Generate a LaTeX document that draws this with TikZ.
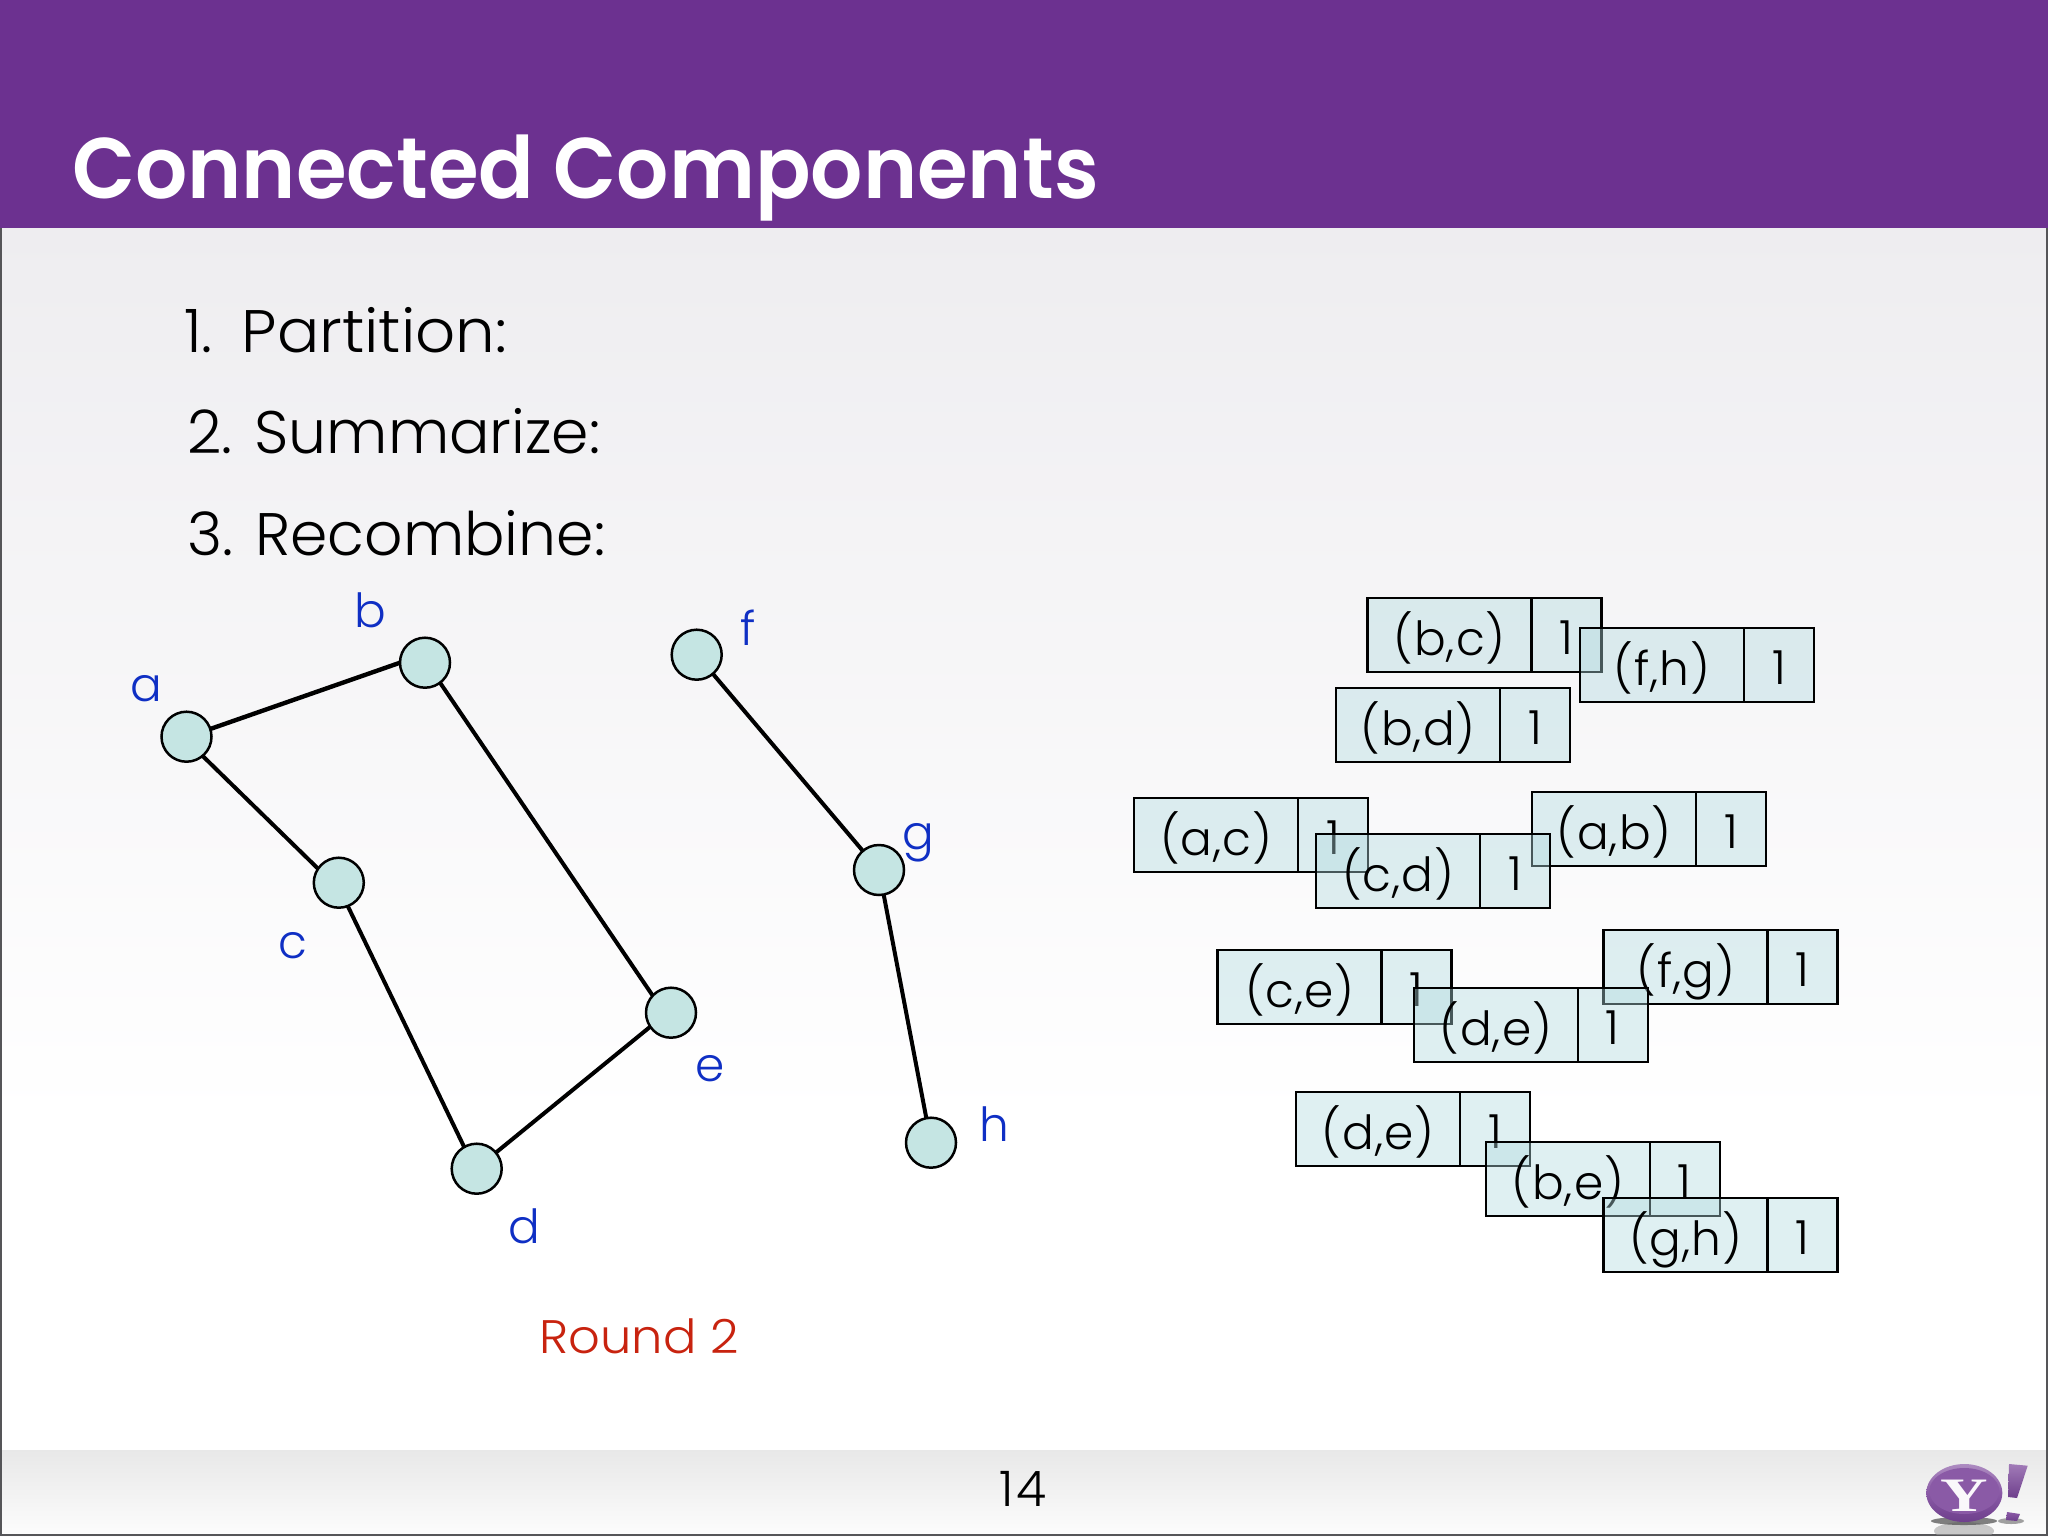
\documentclass[tikz,border=0pt]{standalone}
\usepackage{fontspec}
\usepackage{graphicx}
\setmainfont{Poppins Light}
\newfontfamily\titlefont{Poppins SemiBold}
\newfontfamily\yfont{Liberation Serif}
\usetikzlibrary{shapes.geometric}
\definecolor{headpurple}{HTML}{6C3190}
\definecolor{bgtop}{HTML}{EEEDF0}
\definecolor{cellfill}{HTML}{B0DADF}
\definecolor{vertexfill}{HTML}{C5E5E3}
\definecolor{lblue}{HTML}{0F2FC4}
\definecolor{lred}{HTML}{C8230F}
\definecolor{logop}{HTML}{8A5AA6}
\definecolor{logod}{HTML}{6E3F8C}
\definecolor{framec}{HTML}{555558}
\tikzset{
  cellbase/.style={draw=black,line width=1.25pt,fill=cellfill,fill opacity=.4,draw opacity=1,text opacity=1,
    inner sep=0pt,outer sep=0pt,minimum height=37pt,text depth=0pt,anchor=north west},
  keycell/.style={cellbase,minimum width=82pt,text height=20.5pt,font=\fontsize{23.5}{28}\selectfont\addfontfeature{LetterSpace=2}},
  valcell/.style={cellbase,minimum width=35pt,text height=19pt,font=\fontsize{23.5}{28}\selectfont},
  vertex/.style={circle,draw=black,line width=1.25pt,fill=vertexfill,minimum size=25pt,inner sep=0pt,outer sep=0pt},
  edge/.style={draw=black,line width=2pt},
  vlabel/.style={anchor=base,inner sep=0pt,text=lblue,font=\fontsize{23.5}{28}\selectfont},
  bodytext/.style={anchor=base west,inner sep=0pt,text=black,font=\fontsize{30}{36}\selectfont},
}
\newcommand{\pairbox}[4]{%
  \node[keycell] (#1k) at (#2,#3) {#4};
  \node[valcell,anchor=north west] (#1v) at (#1k.north east) {1};
}
\begin{document}
\begin{tikzpicture}[x=0.5pt,y=-0.5pt]
\useasboundingbox (0,0) rectangle (2048,1536);
% background
\fill[white] (0,0) rectangle (2048,1536);
\shade[top color=bgtop,bottom color=white] (0,228) rectangle (2048,1120);
\shade[top color=black!9,bottom color=black!1] (0,1450) rectangle (2048,1536);
\fill[headpurple] (0,0) rectangle (2048,228);
\draw[framec,line width=1pt] (1,228) -- (1,1535) -- (2047,1535) -- (2047,228);
% texts
\node[anchor=base west,inner sep=0pt,text=white,font=\titlefont\fontsize{43}{50}\selectfont] (title) at (72,198) {\scalebox{.954}[1]{Connected Components}};
\node[bodytext] (t1) at (184,352) {1.\kern14.4pt\scalebox{1.045}[1]{Partition:}};
\node[bodytext] (t2) at (187,453) {2. Summarize:};
\node[bodytext] (t3) at (187,555) {3. Recombine:};
\node[anchor=base,inner sep=0pt,font=\fontsize{24.5}{28}\selectfont] (pageno) at (1023,1506) {1\kern1.2pt 4};
\node[anchor=base west,inner sep=0pt,text=lred,font=\fontsize{23.5}{28}\selectfont] (round) at (539,1353) {\scalebox{1.055}[1]{Round 2}};
% graph
\node[vertex] (a) at (186.5,736.7) {};
\node[vertex] (b) at (425,662.7) {};
\node[vertex] (c) at (338.8,882.7) {};
\node[vertex] (d) at (476.7,1168.7) {};
\node[vertex] (e) at (671,1012.7) {};
\node[vertex] (f) at (696.7,654.7) {};
\node[vertex] (g) at (879,870) {};
\node[vertex] (h) at (931,1142.7) {};
\draw[edge,line width=2.2pt] (a.18) -- (b.west);
\draw[edge] (a.-50) -- (c.146);
\draw[edge] (b.-53) -- (e.137);
\draw[edge] (c.-69) -- (d.120);
\draw[edge] (d.40) -- (e.214);
\draw[edge] (f) -- (g);
\draw[edge] (g) -- (h);
\node[vlabel] (la) at (146.5,701.7) {a};
\node[vlabel] (lb) at (370.6,627.7) {b};
\node[vlabel] (lc) at (292.7,958) {c};
\node[vlabel] (ld) at (524,1243) {d};
\node[vlabel] (le) at (710,1081.7) {e};
\node[vlabel] (lf) at (748.6,645) {f};
\node[vlabel] (lg) at (918,849) {g};
\node[vlabel] (lh) at (994.7,1141.7) {h};
% pair boxes
\pairbox{bc}{1367.6}{598}{(b,c)}
\pairbox{fh}{1580}{628}{(f,h)}
\pairbox{bd}{1336}{688}{(b,d)}
\pairbox{ab}{1532}{792}{(a,b)}
\pairbox{ac}{1134}{798}{(a,c)}
\pairbox{cd}{1316}{834}{(c,d)}
\pairbox{ce}{1217.7}{950}{(c,e)}
\pairbox{fg}{1603.6}{930}{(f,g)}
\pairbox{dea}{1413.8}{988}{(d,e)}
\pairbox{deb}{1296}{1092}{(d,e)}
\pairbox{be}{1485.8}{1142}{(b,e)}
\pairbox{gh}{1603.6}{1198}{(g,h)}
% logo
\begin{scope}
\clip (1900,1450) rectangle (2046,1534.5);
\fill[black!35,opacity=.6] (1964,1531) ellipse (30 and 9);
\fill[black!70,opacity=.7] (1964,1521) ellipse (33 and 4);
\fill[black!60,opacity=.6] (2011,1521) ellipse (13 and 3);
\end{scope}
\shade[top color=logop!70!white,bottom color=logod,middle color=logop] (1964.3,1493) ellipse (38 and 29);
\fill[logop] (1964.3,1491) ellipse (35 and 23);
\node[inner sep=0pt,text=white!96!logop,font=\yfont\bfseries\fontsize{24}{28}\selectfont] (yee) at (1964.3,1495.7) {\scalebox{1.37}[1]{Y}};
\shade[top color=logop!80!white,bottom color=logod] (2009,1464) -- (2027.7,1465.7) -- (2017,1498) -- (2008,1497) -- cycle;
\shade[top color=logop,bottom color=logod] (2007,1512) -- (2020,1514) -- (2017,1521) -- (2006,1520) -- cycle;
\end{tikzpicture}
\end{document}
